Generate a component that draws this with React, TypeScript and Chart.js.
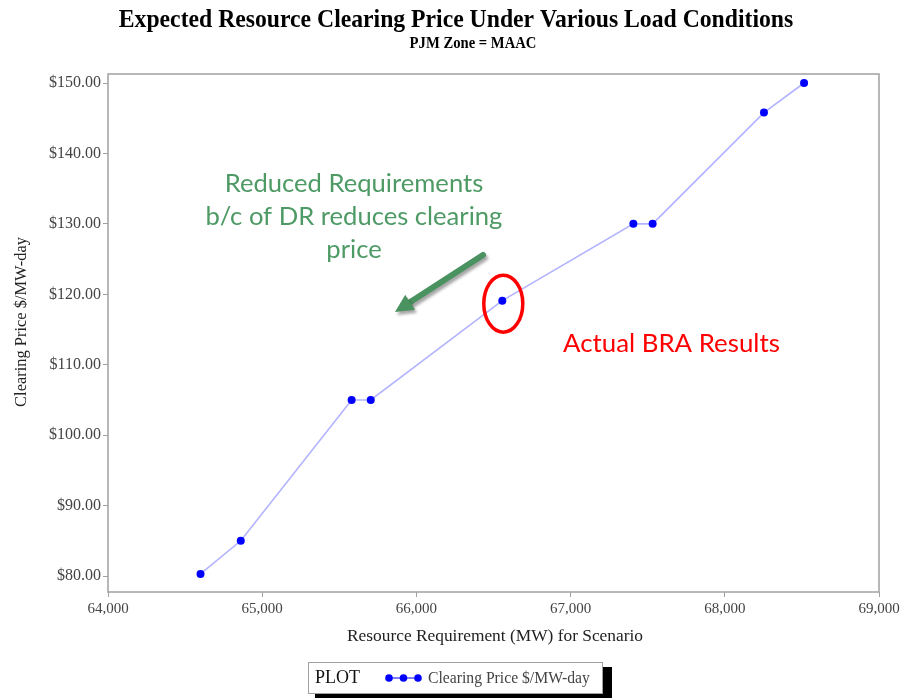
import React, { useEffect, useRef } from "react";
import { Chart, registerables } from "chart.js";

Chart.register(...registerables);

// ---- data ----
const resourceMW = [64600, 64861, 65580, 65704, 66557, 67407, 67532, 68254, 68514];
const clearingPrice = [80.3, 85.0, 105.0, 105.0, 119.1, 130.0, 130.0, 145.8, 150.0];
const xTickValues = [64000, 65000, 66000, 67000, 68000, 69000];
const yTickValues = [80, 90, 100, 110, 120, 130, 140, 150];

const chartTitle = "Expected Resource Clearing Price Under Various Load Conditions";
const chartSubtitle = "PJM Zone = MAAC";
const xAxisTitle = "Resource Requirement (MW) for Scenario";
const yAxisTitle = "Clearing Price $/MW-day";
const seriesLabel = "Clearing Price $/MW-day";
const legendTitle = "PLOT";
const greenNote = ["Reduced Requirements", "b/c of DR reduces clearing", "price"];
const redNote = "Actual BRA Results";
const highlightIndex = 4;

const SERIF = "'Liberation Serif', 'Times New Roman', serif";
const SANS = "Lato, 'Noto Sans', sans-serif";

function fitSize(ctx: CanvasRenderingContext2D, text: string, weight: string, family: string, target: number) {
  ctx.font = `${weight} 100px ${family}`;
  const w = ctx.measureText(text).width;
  return (100 * target) / w;
}

const overlayPlugin = {
  id: "overlay",
  beforeDraw(chart: any) {
    const ctx = chart.ctx as CanvasRenderingContext2D;
    ctx.save();
    ctx.fillStyle = "#ffffff";
    ctx.fillRect(0, 0, chart.width, chart.height);
    ctx.restore();
  },
  afterDraw(chart: any) {
    const ctx = chart.ctx as CanvasRenderingContext2D;
    const { left, right, top, bottom } = chart.chartArea;
    const xs = chart.scales.x;
    const ys = chart.scales.y;

    ctx.save();
    // plot frame
    ctx.strokeStyle = "#a0a0a0";
    ctx.lineWidth = 1.5;
    ctx.strokeRect(left, top, right - left, bottom - top);

    // titles (slightly tall, condensed look)
    ctx.fillStyle = "#000";
    ctx.textAlign = "center";
    ctx.textBaseline = "alphabetic";
    let s = fitSize(ctx, chartTitle, "bold", SERIF, 675);
    ctx.save();
    ctx.translate(456, 27);
    ctx.scale(1, 1.1);
    ctx.font = `bold ${s}px ${SERIF}`;
    ctx.fillText(chartTitle, 0, 0);
    ctx.restore();
    s = fitSize(ctx, chartSubtitle, "bold", SERIF, 127);
    ctx.save();
    ctx.translate(473, 48);
    ctx.scale(1, 1.1);
    ctx.font = `bold ${s}px ${SERIF}`;
    ctx.fillText(chartSubtitle, 0, 0);
    ctx.restore();

    // axis titles
    ctx.fillStyle = "#222";
    ctx.textBaseline = "middle";
    s = fitSize(ctx, xAxisTitle, "normal", SERIF, 296);
    ctx.font = `${s}px ${SERIF}`;
    ctx.fillText(xAxisTitle, 495, 636);
    s = fitSize(ctx, yAxisTitle, "normal", SERIF, 170);
    ctx.save();
    ctx.translate(22, 322);
    ctx.rotate(-Math.PI / 2);
    ctx.font = `${s}px ${SERIF}`;
    ctx.fillText(yAxisTitle, 0, 0);
    ctx.restore();

    // green note
    ctx.fillStyle = "#4e9a65";
    ctx.textBaseline = "alphabetic";
    s = fitSize(ctx, greenNote[1], "normal", SANS, 297);
    ctx.font = `${s}px ${SANS}`;
    const baselines = [191.7, 225, 258.3];
    greenNote.forEach((t, i) => ctx.fillText(t, 354, baselines[i]));

    // green arrow
    ctx.save();
    ctx.shadowColor = "rgba(0,0,0,0.35)";
    ctx.shadowOffsetX = 2;
    ctx.shadowOffsetY = 3;
    ctx.shadowBlur = 3;
    const tail = { x: 483, y: 255 };
    const tip = { x: 395, y: 312 };
    const dx = tip.x - tail.x, dy = tip.y - tail.y;
    const len = Math.hypot(dx, dy);
    const ux = dx / len, uy = dy / len;
    const nx = -uy, ny = ux;
    const headLen = 18, headHalf = 9;
    const bx = tip.x - ux * headLen, by = tip.y - uy * headLen;
    ctx.strokeStyle = "#4a9260";
    ctx.fillStyle = "#4a9260";
    ctx.lineWidth = 6;
    ctx.lineCap = "round";
    ctx.beginPath();
    ctx.moveTo(tail.x, tail.y);
    ctx.lineTo(bx + ux * 2, by + uy * 2);
    ctx.stroke();
    ctx.beginPath();
    ctx.moveTo(tip.x, tip.y);
    ctx.lineTo(bx + nx * headHalf, by + ny * headHalf);
    ctx.lineTo(bx - nx * headHalf, by - ny * headHalf);
    ctx.closePath();
    ctx.fill();
    ctx.restore();

    // red ellipse around highlighted point
    const hx = xs.getPixelForValue(resourceMW[highlightIndex]);
    const hy = ys.getPixelForValue(clearingPrice[highlightIndex]);
    ctx.strokeStyle = "#ff0000";
    ctx.lineWidth = 3.5;
    ctx.beginPath();
    ctx.ellipse(hx + 1, hy + 3, 19.5, 28.5, 0, 0, Math.PI * 2);
    ctx.stroke();

    // red note
    ctx.fillStyle = "#ff0000";
    ctx.textAlign = "left";
    s = fitSize(ctx, redNote, "normal", SANS, 217);
    ctx.font = `${s}px ${SANS}`;
    ctx.fillText(redNote, 563, 352);

    // legend box
    ctx.fillStyle = "#000";
    ctx.fillRect(315, 667, 297, 40);
    ctx.fillStyle = "#fff";
    ctx.fillRect(308, 662, 295, 31);
    ctx.strokeStyle = "#a0a0a0";
    ctx.lineWidth = 1;
    ctx.strokeRect(308.5, 662.5, 294, 31);
    ctx.fillStyle = "#111";
    ctx.textBaseline = "middle";
    s = fitSize(ctx, legendTitle, "normal", SERIF, 45);
    ctx.font = `${s}px ${SERIF}`;
    ctx.fillText(legendTitle, 315, 678);
    ctx.strokeStyle = "#0000ff";
    ctx.lineWidth = 1;
    ctx.beginPath();
    ctx.moveTo(388, 678);
    ctx.lineTo(420, 678);
    ctx.stroke();
    ctx.fillStyle = "#0000ff";
    [389, 403.5, 418].forEach((px) => {
      ctx.beginPath();
      ctx.arc(px, 678, 3.8, 0, Math.PI * 2);
      ctx.fill();
    });
    ctx.fillStyle = "#444";
    s = fitSize(ctx, seriesLabel, "normal", SERIF, 162);
    ctx.font = `${s}px ${SERIF}`;
    ctx.fillText(seriesLabel, 428, 679);
    ctx.restore();
  },
};

export default function App() {
  const canvasRef = useRef<HTMLCanvasElement | null>(null);

  useEffect(() => {
    if (!canvasRef.current) return;
    const points = resourceMW.map((x, i) => ({ x, y: clearingPrice[i] }));
    const chart = new Chart(canvasRef.current, {
      type: "scatter",
      data: {
        datasets: [
          {
            label: seriesLabel,
            data: points,
            showLine: true,
            borderColor: "#b3b3ff",
            borderWidth: 1.6,
            pointRadius: 4,
            pointHoverRadius: 4,
            pointBackgroundColor: "#0000ff",
            pointBorderWidth: 0,
          },
        ],
      },
      options: {
        responsive: false,
        animation: false,
        layout: { padding: { top: 74, left: 0, right: 24, bottom: 66 } },
        plugins: {
          legend: { display: false },
          title: { display: false },
          tooltip: { enabled: false },
        },
        scales: {
          x: {
            type: "linear",
            min: 64000,
            max: 69000,
            afterBuildTicks: (scale: any) => {
              scale.ticks = xTickValues.map((v) => ({ value: v }));
            },
            afterFit: (scale: any) => {
              scale.height = 40;
            },
            ticks: {
              autoSkip: false,
              maxRotation: 0,
              padding: 3,
              color: "#444",
              font: { family: SERIF, size: 15 },
              callback: (v: any) => Number(v).toLocaleString("en-US"),
            },
            grid: { display: true, drawOnChartArea: false, drawTicks: true, tickLength: 5, color: "#a0a0a0", lineWidth: 1 },
            border: { display: false },
          },
          y: {
            type: "linear",
            min: 77.73,
            max: 151.28,
            afterBuildTicks: (scale: any) => {
              scale.ticks = yTickValues.map((v) => ({ value: v }));
            },
            afterFit: (scale: any) => {
              scale.width = 108;
            },
            ticks: {
              autoSkip: false,
              padding: 2,
              color: "#444",
              font: { family: SERIF, size: 16 },
              callback: (v: any) => "$" + Number(v).toFixed(2),
            },
            grid: { display: true, drawOnChartArea: false, drawTicks: true, tickLength: 5, color: "#a0a0a0", lineWidth: 1 },
            border: { display: false },
          },
        },
      },
      plugins: [overlayPlugin],
    });
    return () => chart.destroy();
  }, []);

  return (
    <div style={{ position: "fixed", left: 0, top: 0, width: 903, height: 698, background: "#fff" }}>
      <canvas ref={canvasRef} width={903} height={698} style={{ display: "block" }} />
    </div>
  );
}
